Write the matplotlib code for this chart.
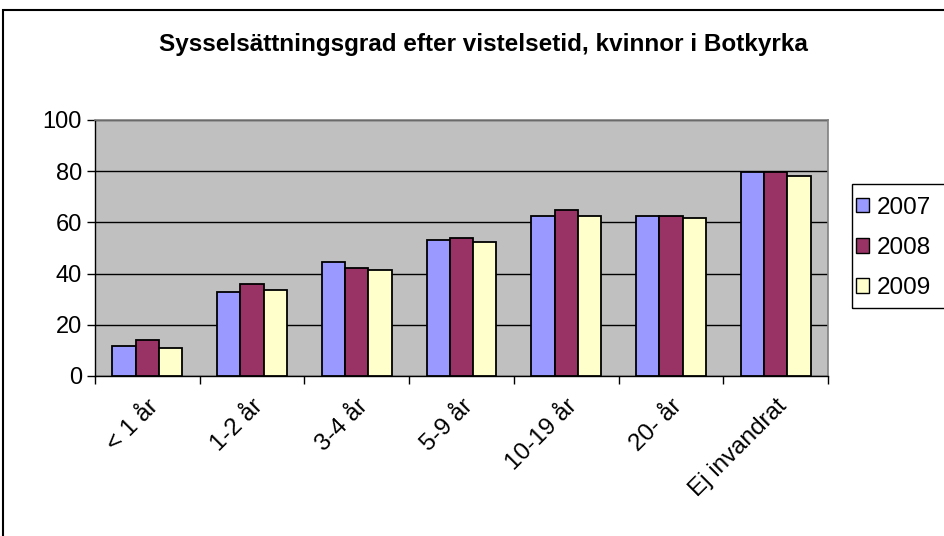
import matplotlib
matplotlib.use("Agg")
import matplotlib.pyplot as plt
import numpy as np
from matplotlib.patches import Rectangle, Patch

plt.rcParams['font.family'] = ['Liberation Sans', 'DejaVu Sans']

categories = ["< 1 år", "1-2 år", "3-4 år", "5-9 år", "10-19 år", "20- år", "Ej invandrat"]
years = ["2007", "2008", "2009"]
v2007 = [11.7, 32.8, 44.5, 53.0, 62.5, 62.5, 79.7]
v2008 = [14.0, 36.0, 42.0, 54.0, 65.0, 62.5, 79.7]
v2009 = [11.0, 33.6, 41.4, 52.5, 62.5, 61.7, 78.0]
colors = ["#9999ff", "#993366", "#ffffcc"]

W, H = 944, 536
fig = plt.figure(figsize=(W / 100, H / 100), dpi=100)
# outer chart frame (runs off the right and bottom edges like the reference)
fig.patches.append(Rectangle((3 / W, -0.05), 1.0, 1 - 10 / H + 0.05, transform=fig.transFigure,
                             fill=False, edgecolor="black", linewidth=1.5))

ax = fig.add_axes([95 / W, 1 - 376 / H, (828 - 95) / W, (376 - 120) / H])
ax.set_facecolor("#c0c0c0")

x = np.arange(len(categories))
w = 0.222
for i, (vals, c, lab) in enumerate(zip([v2007, v2008, v2009], colors, years)):
    ax.bar(x + (i - 1) * w, vals, width=w, color=c, edgecolor="black", linewidth=1.3, label=lab, zorder=3)

ax.set_xlim(-0.5, len(categories) - 0.5)
ax.set_ylim(0, 100)
ax.set_yticks(range(0, 101, 20))
ax.yaxis.grid(True, color="black", linewidth=1, zorder=1)
ax.set_axisbelow(True)

# ticks between categories, labels at category centres
ax.set_xticks(np.arange(-0.5, len(categories), 1))
ax.set_xticklabels([])
ax.set_xticks(x, minor=True)
ax.set_xticklabels(categories, minor=True, rotation=45, ha="right", va="top",
                   rotation_mode="anchor", fontsize=17.5)
ax.tick_params(axis="x", which="minor", length=0, pad=14)
ax.tick_params(axis="x", which="major", length=6, direction="out", width=1)
ax.tick_params(axis="y", length=6, direction="out", labelsize=17, width=1)

for s in ["top", "right"]:
    ax.spines[s].set_color("#808080")
    ax.spines[s].set_linewidth(1.2)
for s in ["left", "bottom"]:
    ax.spines[s].set_color("black")
    ax.spines[s].set_linewidth(1)

fig.text(483 / W, 1 - 45 / H, "Sysselsättningsgrad efter vistelsetid, kvinnor i Botkyrka",
         ha="center", va="center", fontsize=17.5, fontweight="bold")

# legend frame runs past the right edge
fig.patches.append(Rectangle((852 / W, 1 - 308 / H), 0.2, 124 / H, transform=fig.transFigure,
                             fill=False, edgecolor="black", linewidth=1))
handles = [Patch(facecolor=c, edgecolor="black", label=y) for c, y in zip(colors, years)]
leg = fig.legend(handles=handles, loc="center left", bbox_to_anchor=(856 / W, 1 - 248 / H),
                 fontsize=17.5, frameon=False, handlelength=0.55, handleheight=0.55,
                 handletextpad=0.3, labelspacing=0.75, borderpad=0, borderaxespad=0)

fig.savefig("out.png", dpi=100)
